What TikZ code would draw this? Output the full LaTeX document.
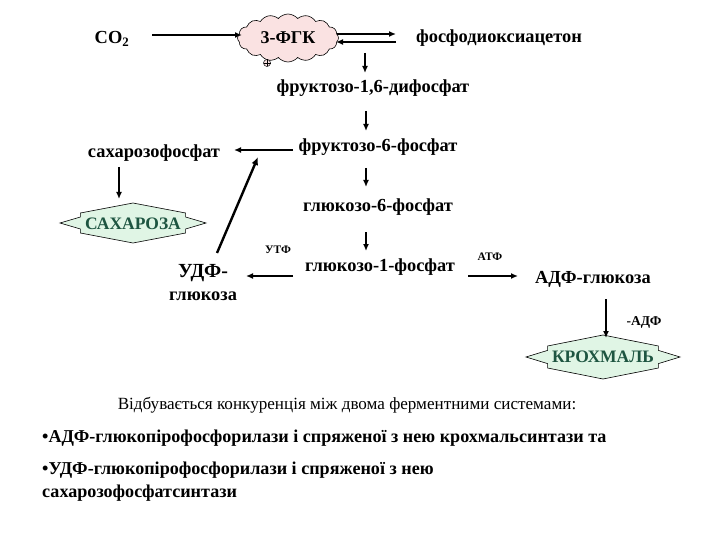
\documentclass[tikz,border=0pt]{standalone}
\usepackage{fontspec}
\setmainfont{Liberation Serif}
\usetikzlibrary{shapes.symbols,arrows.meta}
\definecolor{cloudpink}{RGB}{250,226,226}
\definecolor{starfill}{RGB}{224,245,229}
\definecolor{startext}{RGB}{30,85,65}
\newcommand\flatstar[3]{\begin{scope}[shift={#1},xscale=#2,yscale=#3]
 \draw[starbox] (1,0) -- (0.72,0.3) -- (0.72,0.5) -- (0,1) -- (-0.72,0.5) -- (-0.72,0.3) -- (-1,0)
   -- (-0.72,-0.3) -- (-0.72,-0.5) -- (0,-1) -- (0.72,-0.5) -- (0.72,-0.3) -- cycle;
\end{scope}}
\begin{document}
\begin{tikzpicture}[x=1pt,y=-1pt,
 lbl/.style={font=\fontsize{18.4}{21}\selectfont\bfseries, inner sep=0pt},
 btxt/.style={font=\fontsize{18.1}{21}\selectfont\bfseries, inner sep=0pt},
 small/.style={font=\fontsize{11.5}{13}\selectfont\bfseries, inner sep=0pt},
 plain/.style={font=\fontsize{17.1}{20}\selectfont, inner sep=0pt},
 stxt/.style={font=\fontsize{17.5}{20}\selectfont\bfseries, text=startext, inner sep=0pt},
 starbox/.style={draw=black, line width=0.6pt, fill=starfill},
 arr/.style={line width=1.6pt, -{Latex[length=7pt,width=6pt]}},
 thickarr/.style={line width=2.4pt, -{Latex[length=8pt,width=7pt]}}]
\fill[white] (0,0) rectangle (720,540);
\useasboundingbox (0,0) rectangle (720,540);

% cloud
\node[cloud, cloud puffs=16, cloud puff arc=100, aspect=2.1, minimum width=101pt, minimum height=48pt,
      draw, fill=cloudpink, line width=0.6pt, inner sep=0pt, font=\fontsize{18}{20}\selectfont\bfseries] (fgk) at (288,38) {3-ФГК};
\draw[line width=0.5pt, fill=cloudpink] (267,63) circle (3.5pt);
\draw[line width=0.5pt] (263.5,63) -- (270.5,63) (267,59.5) -- (267,66.5);

% stars
\flatstar{(133,223)}{73}{20}
\flatstar{(603,357)}{77}{22}
\node[stxt] (sug) at (133,224) {САХАРОЗА};
\node[stxt] (starch) at (603,357) {КРОХМАЛЬ};

% labels
\node[lbl] (co2) at (112,39) {CO\textsubscript{2}};
\node[lbl] (fda) at (499,38) {фосфодиоксиацетон};
\node[lbl] (f16) at (373,88) {фруктозо-1,6-дифосфат};
\node[lbl] (f6) at (378,147) {фруктозо-6-фосфат};
\node[lbl] (sp) at (154,153) {сахарозофосфат};
\node[lbl] (g6) at (378,207) {глюкозо-6-фосфат};
\node[lbl] (g1) at (380,267) {глюкозо-1-фосфат};
\node[lbl, font=\fontsize{20}{22}\selectfont\bfseries] (udf) at (203,273) {УДФ-};
\node[lbl] (udfg) at (203,296) {глюкоза};
\node[small] (utf) at (278,250) {УТФ};
\node[small] (atf) at (490,257) {АТФ};
\node[lbl] (adfg) at (593,279) {АДФ-глюкоза};
\node[small, font=\fontsize{13.5}{15}\selectfont\bfseries] (adf) at (644,322) {-АДФ};

% connector end points
\coordinate (a1s) at (152,35);  \coordinate (a1e) at (242,35);
\coordinate (a2s) at (337,34);  \coordinate (a2e) at (396,34);
\coordinate (a3s) at (396,42);  \coordinate (a3e) at (336,42);
\coordinate (a4s) at (365,53);  \coordinate (a4e) at (365,73);
\coordinate (a5s) at (366,111); \coordinate (a5e) at (366,131);
\coordinate (a6s) at (293,150); \coordinate (a6e) at (234,150);
\coordinate (a7s) at (119,167); \coordinate (a7e) at (119,199);
\coordinate (a8s) at (366,168); \coordinate (a8e) at (366,187);
\coordinate (a9s) at (366,232); \coordinate (a9e) at (366,251);
\coordinate (a10s) at (293,276); \coordinate (a10e) at (246,276);
\coordinate (a11s) at (217,253); \coordinate (a11e) at (258,157);
\coordinate (a12s) at (468,276); \coordinate (a12e) at (518,276);
\coordinate (a13s) at (606,299); \coordinate (a13e) at (606,338);

\draw[arr] (a1s) -- (a1e);
\draw[arr] (a2s) -- (a2e);
\draw[arr] (a3s) -- (a3e);
\draw[arr] (a4s) -- (a4e);
\draw[arr] (a5s) -- (a5e);
\draw[arr] (a6s) -- (a6e);
\draw[arr] (a7s) -- (a7e);
\draw[arr] (a8s) -- (a8e);
\draw[arr] (a9s) -- (a9e);
\draw[arr] (a10s) -- (a10e);
\draw[thickarr] (a11s) -- (a11e);
\draw[arr] (a12s) -- (a12e);
\draw[arr] (a13s) -- (a13e);

% bottom text
\node[plain] (t0) at (347,405) {Відбувається конкуренція між двома ферментними системами:};
\node[btxt, anchor=west] (t1) at (42,438) {•АДФ-глюкопірофосфорилази і спряженої з нею крохмальсинтази та};
\node[btxt, anchor=west] (t2) at (42,470) {•УДФ-глюкопірофосфорилази і спряженої з нею};
\node[btxt, anchor=west] (t3) at (42,493) {сахарозофосфатсинтази};
\end{tikzpicture}
\end{document}
